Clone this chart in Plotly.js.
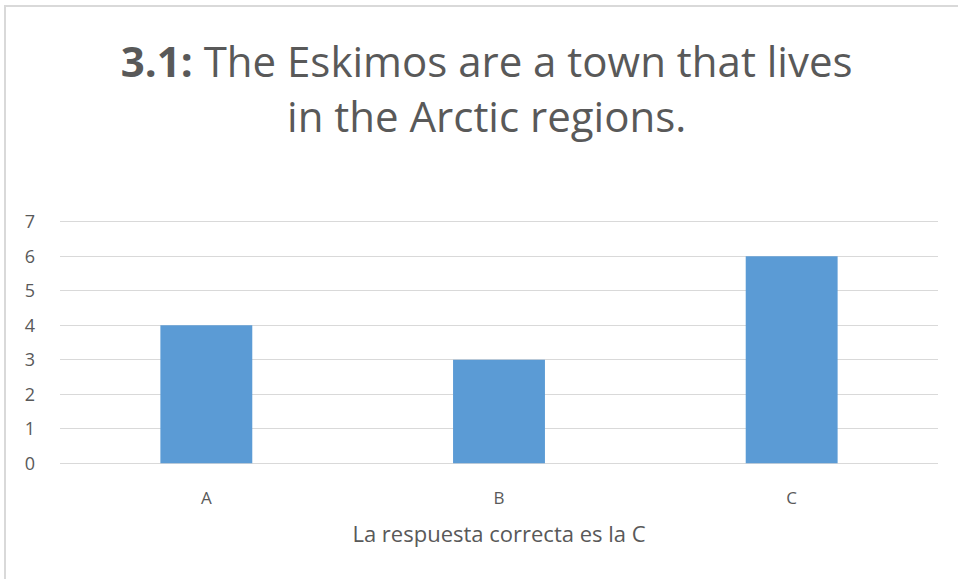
<!DOCTYPE html>
<html>
<head>
<meta charset="utf-8">
<script src="https://cdn.plot.ly/plotly-3.0.1.min.js"></script>
<style>
body{margin:0;padding:0;background:#fff;}
#wrap{position:relative;width:958px;height:579px;overflow:hidden;}
#chart{width:958px;height:579px;}
#frame{position:absolute;left:4px;top:5px;width:1000px;height:1000px;border:2px solid #d9d9d9;pointer-events:none;}
</style>
</head>
<body>
<div id="wrap"><div id="chart"></div><div id="frame"></div></div>
<script>
const categories = ['A', 'B', 'C'];
const values = [4, 3, 6];
const yTicks = [0, 1, 2, 3, 4, 5, 6, 7];
const titleText = '<b>3.1:</b> The Eskimos are a town that lives<br>in the Arctic regions.';
const xTitle = 'La respuesta correcta es la C';

const font = 'Open Sans, sans-serif';
const textColor = '#595959';

Plotly.newPlot('chart', [{
  type: 'bar',
  x: categories,
  y: values,
  marker: {color: '#5b9bd5'},
  hoverinfo: 'x+y'
}], {
  width: 958, height: 579,
  margin: {l: 60, r: 20, t: 220, b: 114},
  paper_bgcolor: '#fff', plot_bgcolor: '#fff',
  bargap: 0.686,
  showlegend: false,
  title: {
    text: titleText,
    font: {family: font, size: 42, color: textColor},
    x: 0.508, xref: 'container', xanchor: 'center',
    y: 0.867, yref: 'container', yanchor: 'top'
  },
  xaxis: {
    type: 'category',
    showgrid: false, zeroline: false, showline: false,
    ticks: '', tickfont: {family: font, size: 17, color: textColor},
    ticklabelstandoff: 21,
    title: {text: xTitle, font: {family: font, size: 22, color: textColor}, standoff: 18}
  },
  yaxis: {
    range: [-0.05, 7.05],
    tickvals: yTicks,
    showgrid: true, gridcolor: '#d9d9d9', gridwidth: 1.3,
    zeroline: false, showline: false, ticks: '',
    tickfont: {family: font, size: 18, color: textColor},
    ticklabelstandoff: 24
  }
}, {displayModeBar: false, staticPlot: true});
</script>
</body>
</html>
